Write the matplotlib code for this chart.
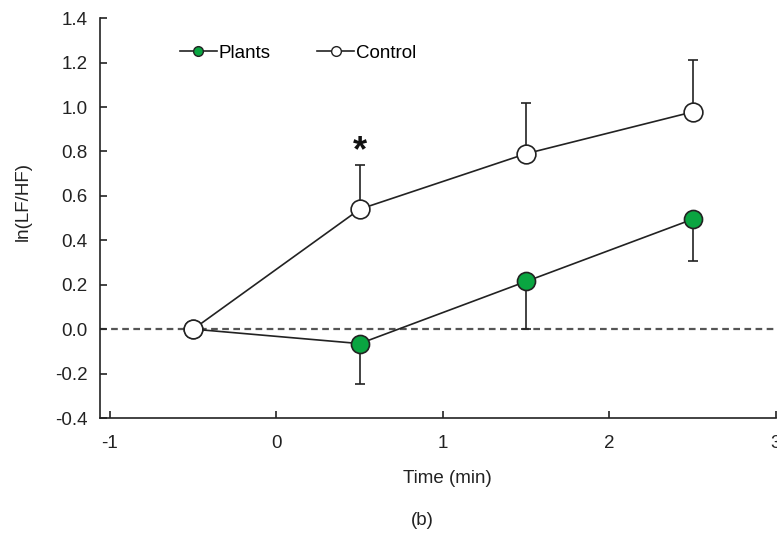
import matplotlib
matplotlib.use("Agg")
import matplotlib.pyplot as plt
from matplotlib.lines import Line2D

plt.rcParams['font.family'] = ['Liberation Sans', 'DejaVu Sans']

time = [-0.5, 0.5, 1.5, 2.5]
plants = [0.0, -0.065, 0.215, 0.495]
plants_err = [0.0, 0.18, 0.215, 0.19]
control = [0.0, 0.54, 0.79, 0.978]
control_err = [0.0, 0.20, 0.23, 0.232]
xticks = [-1, 0, 1, 2, 3]
yticks = [-0.4, -0.2, 0.0, 0.2, 0.4, 0.6, 0.8, 1.0, 1.2, 1.4]

green = '#0aa541'
ink = '#222222'
fs = 13.5

fig = plt.figure(figsize=(7.77, 5.34), dpi=100)
ax = fig.add_axes([0.1287, 0.2172, 0.8700, 0.7488])

ax.axhline(0, color='#555555', lw=1.6, ls=(0, (3, 2)), zorder=1)

# error bars (one-sided)
ax.errorbar(time[1:], plants[1:], yerr=[plants_err[1:], [0]*3], fmt='none',
            ecolor=ink, elinewidth=1.2, capsize=3.5, capthick=1.2, zorder=2)
ax.errorbar(time[1:], control[1:], yerr=[[0]*3, control_err[1:]], fmt='none',
            ecolor=ink, elinewidth=1.2, capsize=3.5, capthick=1.2, zorder=2)

ax.plot(time, plants, '-', color=ink, lw=1.2, marker='o', ms=13,
        mfc=green, mec=ink, mew=1.2, zorder=3)
ax.plot(time, control, '-', color=ink, lw=1.2, marker='o', ms=13.5,
        mfc='white', mec=ink, mew=1.2, zorder=4)

ax.text(0.5, 0.80, '*', ha='center', va='center', fontsize=26, fontweight='bold',
        color='#111111')

ax.set_xlim(-1.06, 3.0)
ax.set_ylim(-0.4, 1.4)
ax.set_xticks(xticks)
ax.set_yticks(yticks)
ax.set_xticklabels([str(v) for v in xticks])
ax.set_yticklabels([f'{v:.1f}' for v in yticks])
ax.tick_params(direction='in', length=5, width=1.2, labelsize=fs, color=ink,
               labelcolor=ink)
ax.tick_params(axis='x', pad=12)
ax.tick_params(axis='y', pad=9)
for s in ['top', 'right']:
    ax.spines[s].set_visible(False)
for s in ['left', 'bottom']:
    ax.spines[s].set_linewidth(1.2)
    ax.spines[s].set_color(ink)

ax.set_ylabel('ln(LF/HF)', fontsize=fs, color=ink)
ax.yaxis.set_label_coords(-0.101, 0.5425)
ax.set_xlabel('Time (min)', fontsize=fs, color=ink)
ax.xaxis.set_label_coords(0.514, -0.13)

fig.text(0.5437, 0.026, '(b)', ha='center', va='center', fontsize=fs, color=ink)

handles = [
    Line2D([], [], color=ink, lw=1.2, marker='o', ms=7, mfc=green, mec=ink, mew=1.0),
    Line2D([], [], color=ink, lw=1.2, marker='o', ms=7, mfc='white', mec=ink, mew=1.0),
]
ax.legend(handles, ['Plants', 'Control'], loc='center left', bbox_to_anchor=(0.118, 0.912),
          ncol=2, frameon=False, fontsize=fs, handlelength=1.97, handletextpad=0.1,
          columnspacing=2.5, borderpad=0, borderaxespad=0)

fig.savefig('out.png', dpi=100)
